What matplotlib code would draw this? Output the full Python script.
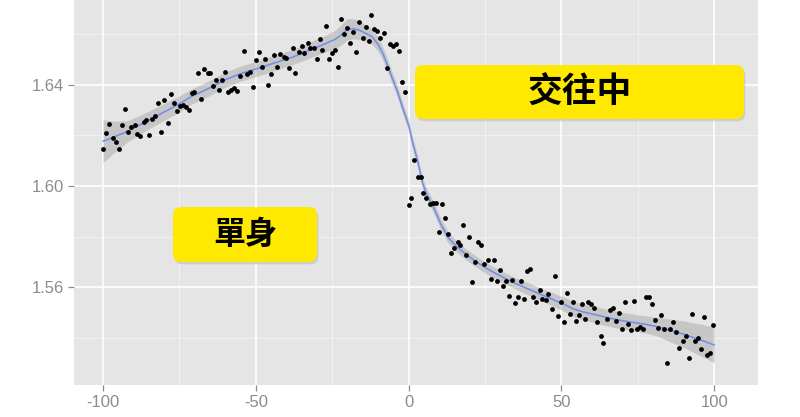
import numpy as np
import matplotlib
matplotlib.use("Agg")
import matplotlib.pyplot as plt
from matplotlib.patches import FancyBboxPatch

# 散點資料 (x, y)
pts_x = [-100.0, -99.0, -97.9, -96.8, -95.8, -94.9, -93.9, -92.7, -91.9, -90.8,
         -89.7, -88.8, -88.0, -86.7, -85.9, -85.0, -84.0, -82.9, -82.1, -81.0,
         -80.0, -78.7, -77.8, -76.8, -75.8, -74.7, -73.8, -72.8, -71.9, -70.9,
         -70.1, -69.0, -67.9, -67.1, -65.7, -64.9, -64.0, -63.1, -61.9, -61.0,
         -60.1, -59.0, -58.1, -57.3, -56.1, -55.1, -54.0, -52.9, -52.0, -51.0,
         -49.9, -49.1, -48.1, -47.0, -46.1, -45.0, -44.2, -43.1, -42.0, -40.9,
         -40.1, -39.1, -38.0, -37.2, -36.0, -35.0, -34.2, -33.1, -32.2, -31.1,
         -30.0, -29.1, -28.2, -27.1, -26.0, -25.1, -24.0, -23.0, -22.2, -21.1,
         -20.2, -19.1, -18.1, -17.2, -16.1, -15.1, -14.0, -13.0, -12.2, -11.3,
         -10.2, -9.3, -8.2, -7.1, -6.0, -5.0, -4.2, -3.2, -2.1, -1.1,
         0.0, 0.9, 1.8, 2.9, 4.0, 4.7, 5.8, 6.9, 7.8, 8.9,
         9.8, 10.8, 11.8, 12.9, 13.8, 14.9, 16.0, 16.8, 17.8, 18.9,
         19.8, 20.7, 21.7, 22.8, 23.7, 24.8, 25.8, 26.9, 27.9, 28.8,
         29.8, 30.9, 31.8, 32.8, 33.7, 34.8, 35.9, 36.8, 37.7, 38.7,
         39.7, 40.7, 41.8, 42.9, 43.7, 44.8, 45.7, 46.8, 47.8, 48.8,
         49.7, 50.8, 51.7, 52.8, 53.8, 54.7, 55.7, 56.8, 57.7, 58.7,
         59.7, 60.6, 61.7, 62.8, 63.7, 64.8, 65.8, 66.8, 67.8, 68.8,
         69.7, 70.7, 71.7, 72.7, 73.7, 74.8, 75.7, 76.6, 77.6, 78.6,
         79.6, 80.7, 81.6, 82.6, 83.6, 84.6, 85.6, 86.5, 87.6, 88.6,
         89.6, 90.6, 91.7, 92.6, 93.6, 94.6, 95.7, 96.7, 97.6, 98.5,
         99.6]
pts_y = [1.6147, 1.6210, 1.6246, 1.6190, 1.6173, 1.6148, 1.6242, 1.6305, 1.6212, 1.6232,
         1.6240, 1.6207, 1.6199, 1.6255, 1.6259, 1.6200, 1.6265, 1.6278, 1.6330, 1.6212,
         1.6341, 1.6251, 1.6365, 1.6328, 1.6298, 1.6317, 1.6320, 1.6312, 1.6301, 1.6367,
         1.6370, 1.6448, 1.6344, 1.6462, 1.6448, 1.6446, 1.6396, 1.6417, 1.6378, 1.6420,
         1.6450, 1.6370, 1.6380, 1.6387, 1.6376, 1.6433, 1.6534, 1.6443, 1.6450, 1.6393,
         1.6499, 1.6529, 1.6470, 1.6502, 1.6400, 1.6442, 1.6518, 1.6472, 1.6521, 1.6508,
         1.6505, 1.6468, 1.6547, 1.6446, 1.6531, 1.6553, 1.6525, 1.6564, 1.6547, 1.6547,
         1.6502, 1.6580, 1.6538, 1.6634, 1.6502, 1.6525, 1.6538, 1.6472, 1.6660, 1.6600,
         1.6626, 1.6564, 1.6610, 1.6529, 1.6649, 1.6584, 1.6630, 1.6573, 1.6676, 1.6621,
         1.6613, 1.6584, 1.6604, 1.6466, 1.6560, 1.6555, 1.6560, 1.6534, 1.6411, 1.6371,
         1.5926, 1.5952, 1.6103, 1.6037, 1.6036, 1.5973, 1.5953, 1.5931, 1.5932, 1.5934,
         1.5818, 1.5928, 1.5875, 1.5812, 1.5734, 1.5756, 1.5779, 1.5768, 1.5845, 1.5726,
         1.5798, 1.5619, 1.5700, 1.5780, 1.5768, 1.5691, 1.5706, 1.5632, 1.5706, 1.5625,
         1.5670, 1.5605, 1.5625, 1.5566, 1.5629, 1.5537, 1.5563, 1.5625, 1.5553, 1.5666,
         1.5671, 1.5562, 1.5540, 1.5588, 1.5555, 1.5549, 1.5575, 1.5513, 1.5645, 1.5487,
         1.5542, 1.5463, 1.5579, 1.5494, 1.5542, 1.5466, 1.5490, 1.5536, 1.5474, 1.5540,
         1.5536, 1.5518, 1.5461, 1.5406, 1.5379, 1.5474, 1.5511, 1.5520, 1.5467, 1.5498,
         1.5434, 1.5540, 1.5454, 1.5431, 1.5546, 1.5437, 1.5444, 1.5434, 1.5562, 1.5562,
         1.5536, 1.5470, 1.5438, 1.5491, 1.5437, 1.5300, 1.5434, 1.5463, 1.5424, 1.5361,
         1.5388, 1.5406, 1.5319, 1.5496, 1.5388, 1.5398, 1.5358, 1.5481, 1.5332, 1.5339,
         1.5450]

# 平滑曲線與信賴區間 (讀圖估計)
line_x = [-100, -96, -92, -87, -82, -76, -71, -65, -60, -55, -49, -44, -38, -33, -27,
          -24, -22, -20, -18, -16, -13.5, -12, -10, -8.5, -7, -5.5, -3.7, -2, 0, 1.2,
          2.9, 4.5, 6, 8, 10.5, 13, 16, 19, 22, 25, 28, 32, 36, 40, 44, 47, 51,
          54, 57, 61, 64, 67, 70, 74, 77, 79, 82, 86, 90, 93, 96, 100]
line_y = [1.6177, 1.6196, 1.6216, 1.6248, 1.6280, 1.6318, 1.6354, 1.6388, 1.6420, 1.6444,
          1.6466, 1.6486, 1.6509, 1.6534, 1.6564, 1.6580, 1.6598, 1.6620, 1.6621, 1.6615,
          1.6600, 1.6590, 1.6560, 1.6525, 1.6480, 1.6430, 1.6374, 1.6310, 1.6240, 1.6175,
          1.6100, 1.6013, 1.5965, 1.5920, 1.5850, 1.5795, 1.5758, 1.5728, 1.5702, 1.5678,
          1.5658, 1.5632, 1.5610, 1.5589, 1.5568, 1.5553, 1.5532, 1.5514, 1.5503, 1.5492,
          1.5483, 1.5475, 1.5468, 1.5460, 1.5455, 1.5450, 1.5443, 1.5428, 1.5415, 1.5402,
          1.5390, 1.5372]
band_hw = [0.0085, 0.0060, 0.0042, 0.0036, 0.0034, 0.0032, 0.0030, 0.0030, 0.0030, 0.0030,
           0.0030, 0.0030, 0.0030, 0.0031, 0.0033, 0.0036, 0.0040, 0.0042, 0.0040, 0.0036,
           0.0032, 0.0030, 0.0028, 0.0026, 0.0025, 0.0024, 0.0023, 0.0022, 0.0022, 0.0022,
           0.0022, 0.0022, 0.0022, 0.0022, 0.0022, 0.0022, 0.0022, 0.0022, 0.0022, 0.0022,
           0.0022, 0.0022, 0.0023, 0.0024, 0.0025, 0.0026, 0.0028, 0.0030, 0.0031, 0.0032,
           0.0033, 0.0033, 0.0033, 0.0033, 0.0034, 0.0035, 0.0038, 0.0046, 0.0052, 0.0058,
           0.0064, 0.0070]

x_ticks = [-100, -50, 0, 50, 100]
y_ticks = [1.56, 1.60, 1.64]
y_ticklabels = ["1.56", "1.60", "1.64"]
labels = ["交往中", "單身"]

fig = plt.figure(figsize=(8, 4.17), dpi=100)
fig.patch.set_facecolor("white")
ax = fig.add_axes([0.0925, 0.0767, 0.855, 0.9233])
ax.set_facecolor("#E5E5E5")

# 網格
for xv in [-75, -25, 25, 75]:
    ax.axvline(xv, color="#F2F2F2", lw=0.7, zorder=0)
for yv in [1.54, 1.58, 1.62, 1.66]:
    ax.axhline(yv, color="#F2F2F2", lw=0.7, zorder=0)
for xv in x_ticks:
    ax.axvline(xv, color="white", lw=1.2, zorder=0)
for yv in y_ticks:
    ax.axhline(yv, color="white", lw=1.2, zorder=0)

lx = np.array(line_x)
ly = np.array(line_y)
hw = np.array(band_hw)
ax.fill_between(lx, ly - hw, ly + hw, color="#999999", alpha=0.4, lw=0, zorder=1)
ax.plot(lx, ly, color="#3366FF", alpha=0.6, lw=1.1, zorder=2)
ax.scatter(pts_x, pts_y, s=12, color="black", lw=0, zorder=3)

ax.set_xlim(-109.5, 114.3)
ax.set_ylim(1.5214, 1.6735)
ax.set_xticks(x_ticks)
ax.set_xticklabels([str(v) for v in x_ticks])
ax.set_yticks(y_ticks)
ax.set_yticklabels(y_ticklabels)
ax.tick_params(colors="#8C8C8C", labelcolor="#8C8C8C", labelsize=12, length=4, width=0.9)
for lab in ax.get_xticklabels() + ax.get_yticklabels():
    lab.set_family("Liberation Sans")
for s in ax.spines.values():
    s.set_visible(False)

# 黃色標籤框
boxes = [(0.4985, 0.6909, 0.4810, 0.1403, 25), (0.1447, 0.3195, 0.2106, 0.1428, 23)]
for text, (bx, by, bw, bh, fs) in zip(labels, boxes):
    shadow = FancyBboxPatch((bx + 0.002, by - 0.006), bw, bh, transform=ax.transAxes,
                            boxstyle="round,pad=0,rounding_size=0.012", fc="#BDBDBD",
                            ec="none", alpha=0.6, zorder=4, mutation_aspect=1.8)
    ax.add_patch(shadow)
    box = FancyBboxPatch((bx, by), bw, bh, transform=ax.transAxes,
                         boxstyle="round,pad=0,rounding_size=0.012", fc="#FFE900",
                         ec="none", zorder=5, mutation_aspect=1.8)
    ax.add_patch(box)
    ax.text(bx + bw / 2, by + bh / 2, text, transform=ax.transAxes, ha="center", va="center",
            fontsize=fs, fontweight="bold", color="black", zorder=6,
            family=["Noto Sans CJK TC", "DejaVu Sans"])

fig.savefig("out.png", dpi=100, facecolor="white")
